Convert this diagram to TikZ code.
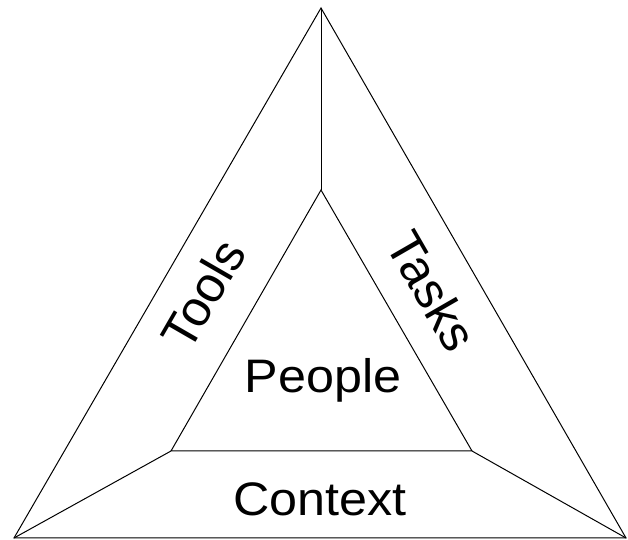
\documentclass[tikz,border=0pt]{standalone}
\usepackage{fontspec}
\setmainfont{Liberation Sans}
\begin{document}
\begin{tikzpicture}[x=1bp,y=1bp,
  edge/.style={draw=black,line width=1bp,line join=miter},
  lbl/.style={inner sep=0pt,font=\fontsize{47bp}{56bp}\selectfont},
  rlbl/.style={inner sep=0pt,font=\fontsize{50bp}{60bp}\selectfont}]
\useasboundingbox (0,0) rectangle (628,540);
\coordinate (ot) at (321,532);
\coordinate (obl) at (14,2);
\coordinate (obr) at (626,2);
\coordinate (it) at (321,350);
\coordinate (ibl) at (171,89);
\coordinate (ibr) at (472,89);
\draw[edge] (ot) -- (obl) -- (obr) -- cycle;
\draw[edge] (it) -- (ibl) -- (ibr) -- cycle;
\draw[edge] (ot) -- (it);
\draw[edge] (obl) -- (ibl);
\draw[edge] (obr) -- (ibr);
\node[rlbl,rotate=60] (tools) at (203,246) {Tools};
\node[rlbl,rotate=-60] (tasks) at (432,249) {Tasks};
\node[lbl,anchor=base] (people) at (323,147) {\scalebox{1.07}[1]{People}};
\node[lbl,anchor=base] (context) at (320,24) {\scalebox{1.07}[1]{Context}};
\end{tikzpicture}
\end{document}
